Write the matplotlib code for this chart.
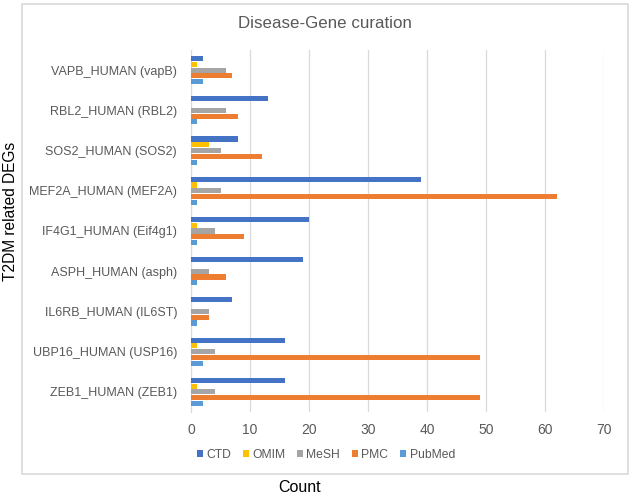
import numpy as np
import matplotlib.pyplot as plt
from matplotlib.patches import Rectangle

plt.rcParams['font.family'] = ['Liberation Sans', 'DejaVu Sans']

genes = ['ZEB1_HUMAN (ZEB1)', 'UBP16_HUMAN (USP16)', 'IL6RB_HUMAN (IL6ST)',
         'ASPH_HUMAN (asph)', 'IF4G1_HUMAN (Eif4g1)', 'MEF2A_HUMAN (MEF2A)',
         'SOS2_HUMAN (SOS2)', 'RBL2_HUMAN (RBL2)', 'VAPB_HUMAN (vapB)']
series = ['CTD', 'OMIM', 'MeSH', 'PMC', 'PubMed']
ctd = [16, 16, 7, 19, 20, 39, 8, 13, 2]
omim = [1, 1, 0, 0, 1, 1, 3, 0, 1]
mesh = [4, 4, 3, 3, 4, 5, 5, 6, 6]
pmc = [49, 49, 3, 6, 9, 62, 12, 8, 7]
pubmed = [2, 2, 1, 1, 1, 1, 1, 1, 2]
colors = ['#4472C4', '#FFC000', '#A5A5A5', '#ED7D31', '#5B9BD5']

fig = plt.figure(figsize=(6.3, 4.97), dpi=100)
ax = fig.add_axes([191/630, 1 - 412/497, (604-191)/630, (412-50)/497])

# chart frame
fig.patches.append(Rectangle((22/630, 1 - 474/497), 606/630, 470/497,
                             transform=fig.transFigure, fill=False,
                             edgecolor='#D9D9D9', linewidth=1.2, zorder=0))

y = np.arange(len(genes))
h = 0.144
for i, (name, vals) in enumerate(zip(series, [ctd, omim, mesh, pmc, pubmed])):
    off = (2 - i) * h
    ax.barh(y + off, vals, height=h * 0.88, color=colors[i], label=name, zorder=3)

ax.set_ylim(-0.5, len(genes) - 0.5)
ax.set_xlim(0, 70)
ax.set_xticks(range(0, 71, 10))
ax.set_yticks(y)
ax.set_yticklabels(genes)
ax.tick_params(axis='both', length=0, labelsize=9, labelcolor='#595959')
ax.tick_params(axis='y', pad=10)
ax.tick_params(axis='x', pad=8, labelsize=10)
ax.grid(axis='x', color='#D9D9D9', linewidth=0.9, zorder=0)
for s in ['top', 'right', 'bottom']:
    ax.spines[s].set_visible(False)
ax.spines['left'].set_color('#D9D9D9')

fig.text(325/630, 1 - 24/497, 'Disease-Gene curation', ha='center', va='center',
         fontsize=12.2, color='#595959')
fig.text(11/630, 1 - 211/497, 'T2DM related DEGs', rotation=90, ha='center',
         va='center', fontsize=11.2, color='black')
fig.text(300/630, 1 - 488/497, 'Count', ha='center', va='center',
         fontsize=11.5, color='black')

fig.legend(loc='center', bbox_to_anchor=(326/630, 1 - 455/497), ncol=5,
           frameon=False, fontsize=8.7, handlelength=0.5, handleheight=0.5,
           handletextpad=0.25, columnspacing=1.0, labelcolor='#595959')

fig.savefig('out.png', dpi=100)
